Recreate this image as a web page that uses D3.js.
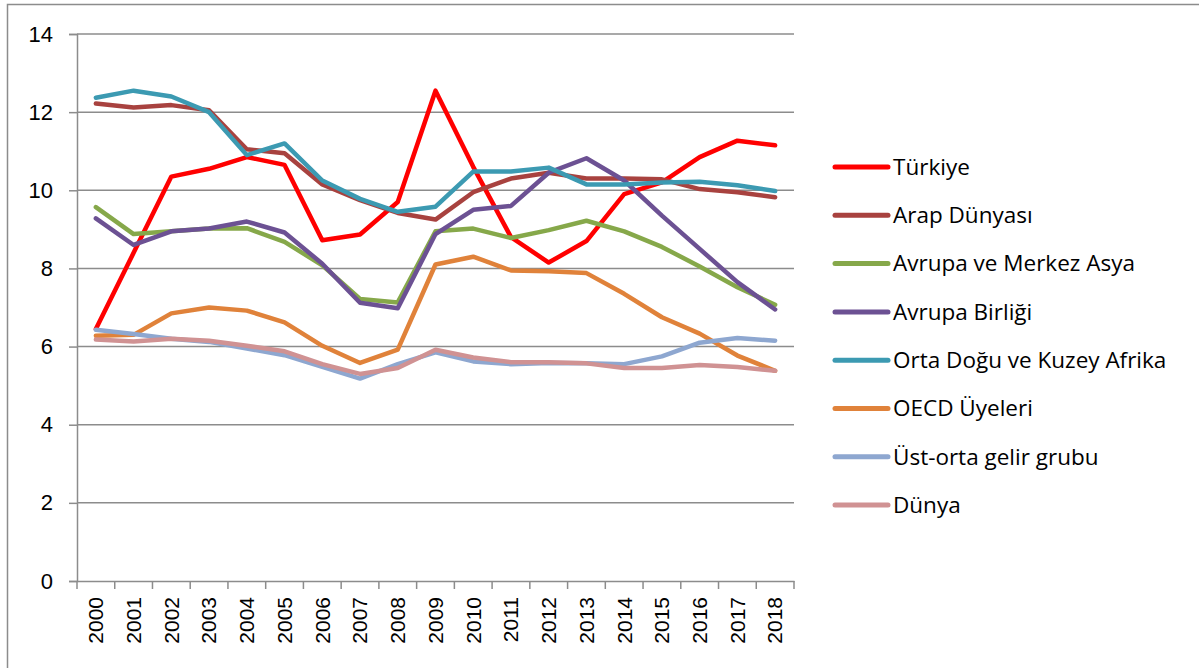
<!DOCTYPE html>
<html>
<head>
<meta charset="utf-8">
<script src="https://cdn.jsdelivr.net/npm/d3@7"></script>
<style>
  body { margin: 0; background: #fff; }
  svg { display: block; font-family: "Open Sans", "Liberation Sans", sans-serif; }
</style>
</head>
<body>
<script>
const width = 1199;
const height = 668;

const years = ['2000', '2001', '2002', '2003', '2004', '2005', '2006', '2007', '2008', '2009',
    '2010', '2011', '2012', '2013', '2014', '2015', '2016', '2017', '2018'];
const yTicks = [0, 2, 4, 6, 8, 10, 12, 14];

const names = ['Türkiye', 'Arap Dünyası', 'Avrupa ve Merkez Asya', 'Avrupa Birliği',
    'Orta Doğu ve Kuzey Afrika', 'OECD Üyeleri', 'Üst-orta gelir grubu', 'Dünya'];
const colors = ['#ff0000', '#a8423f', '#86a84a', '#6c5193', '#3c9ab2', '#e0823a', '#8ea7d0', '#d09293'];

const turkiye = [6.45, 8.4, 10.35, 10.55, 10.85, 10.65, 8.72, 8.87, 9.7, 12.55, 10.6, 8.8, 8.15, 8.7, 9.9, 10.2, 10.85, 11.27, 11.15];
const arap = [12.22, 12.12, 12.18, 12.05, 11.05, 10.95, 10.15, 9.75, 9.42, 9.25, 9.95, 10.3, 10.45, 10.3, 10.3, 10.28, 10.03, 9.95, 9.82];
const avrupaMerkez = [9.57, 8.88, 8.95, 9.02, 9.03, 8.68, 8.08, 7.22, 7.13, 8.95, 9.02, 8.78, 8.98, 9.22, 8.95, 8.55, 8.05, 7.52, 7.07];
const avrupaBirligi = [9.28, 8.6, 8.95, 9.02, 9.2, 8.92, 8.12, 7.12, 6.98, 8.88, 9.5, 9.6, 10.45, 10.82, 10.25, 9.35, 8.5, 7.65, 6.95];
const ortaDogu = [12.37, 12.55, 12.4, 12.0, 10.9, 11.2, 10.25, 9.78, 9.45, 9.58, 10.48, 10.48, 10.58, 10.15, 10.15, 10.2, 10.22, 10.13, 9.98];
const oecd = [6.28, 6.3, 6.85, 7.0, 6.92, 6.62, 6.02, 5.58, 5.92, 8.1, 8.3, 7.95, 7.93, 7.88, 7.35, 6.75, 6.33, 5.77, 5.38];
const ustOrta = [6.43, 6.32, 6.2, 6.12, 5.95, 5.78, 5.48, 5.18, 5.55, 5.85, 5.62, 5.55, 5.58, 5.57, 5.55, 5.75, 6.1, 6.22, 6.15];
const dunya = [6.18, 6.13, 6.2, 6.15, 6.02, 5.88, 5.55, 5.3, 5.45, 5.92, 5.72, 5.6, 5.6, 5.57, 5.45, 5.45, 5.53, 5.48, 5.38];

const series = [turkiye, arap, avrupaMerkez, avrupaBirligi, ortaDogu, oecd, ustOrta, dunya]
    .map((values, i) => ({ name: names[i], color: colors[i], values: values }));

const plot = { left: 77, right: 794, top: 34, bottom: 581 };

const svg = d3.select('body')
    .append('svg')
    .attr('width', width)
    .attr('height', height);

// outer chart border (only left and top edges are visible)
svg.append('path')
    .attr('d', `M7.5,${height} V4.5 H${width}`)
    .attr('fill', 'none')
    .attr('stroke', '#8c8c8c')
    .attr('stroke-width', 1.5);

const x = d3.scaleBand()
    .domain(years)
    .range([plot.left, plot.right]);

const y = d3.scaleLinear()
    .domain([0, 14])
    .range([plot.bottom, plot.top]);

// gridlines
svg.append('g')
    .selectAll('line')
    .data(yTicks.filter(d => d > 0))
    .join('line')
    .attr('x1', plot.left)
    .attr('x2', plot.right)
    .attr('y1', d => y(d))
    .attr('y2', d => y(d))
    .attr('stroke', '#8c8c8c')
    .attr('stroke-width', 1.5);

// y axis
const yAxis = svg.append('g')
    .attr('transform', `translate(${plot.left},0)`)
    .call(d3.axisLeft(y).tickValues(yTicks).tickSize(8).tickPadding(16));
yAxis.select('.domain').attr('stroke', '#8c8c8c').attr('stroke-width', 1.5);
yAxis.selectAll('.tick line').attr('stroke', '#8c8c8c').attr('stroke-width', 1.5);
yAxis.selectAll('.tick text')
    .attr('font-size', 22)
    .attr('fill', '#000');

// x axis
const xAxis = svg.append('g')
    .attr('transform', `translate(0,${plot.bottom})`)
    .call(d3.axisBottom(x).tickSize(0).tickPadding(0));
xAxis.select('.domain').attr('stroke', '#8c8c8c').attr('stroke-width', 1.5);
xAxis.selectAll('.tick text')
    .attr('font-size', 21)
    .attr('fill', '#000')
    .attr('text-anchor', 'end')
    .attr('dy', '0.35em')
    .attr('transform', 'translate(0,16) rotate(-90)');

// category separator ticks on x axis
svg.append('g')
    .selectAll('line')
    .data(years.concat(['end']))
    .join('line')
    .attr('x1', (d, i) => i < years.length ? x(d) : plot.right)
    .attr('x2', (d, i) => i < years.length ? x(d) : plot.right)
    .attr('y1', plot.bottom)
    .attr('y2', plot.bottom + 8)
    .attr('stroke', '#8c8c8c')
    .attr('stroke-width', 1.5);

// series lines
const line = d3.line()
    .x((d, i) => x(years[i]) + x.bandwidth() / 2)
    .y(d => y(d));

svg.append('g')
    .selectAll('path')
    .data(series)
    .join('path')
    .attr('d', d => line(d.values))
    .attr('fill', 'none')
    .attr('stroke', d => d.color)
    .attr('stroke-width', 4.5)
    .attr('stroke-linejoin', 'round')
    .attr('stroke-linecap', 'round');

// legend
const legend = svg.append('g')
    .selectAll('g')
    .data(series)
    .join('g')
    .attr('transform', (d, i) => `translate(835,${167 + i * 48.3})`);

legend.append('line')
    .attr('x1', 0)
    .attr('x2', 53)
    .attr('stroke', d => d.color)
    .attr('stroke-width', 5)
    .attr('stroke-linecap', 'round');

legend.append('text')
    .attr('x', 58)
    .attr('dy', '0.35em')
    .attr('font-size', 22.5)
    .attr('fill', '#000')
    .text(d => d.name);
</script>
</body>
</html>
